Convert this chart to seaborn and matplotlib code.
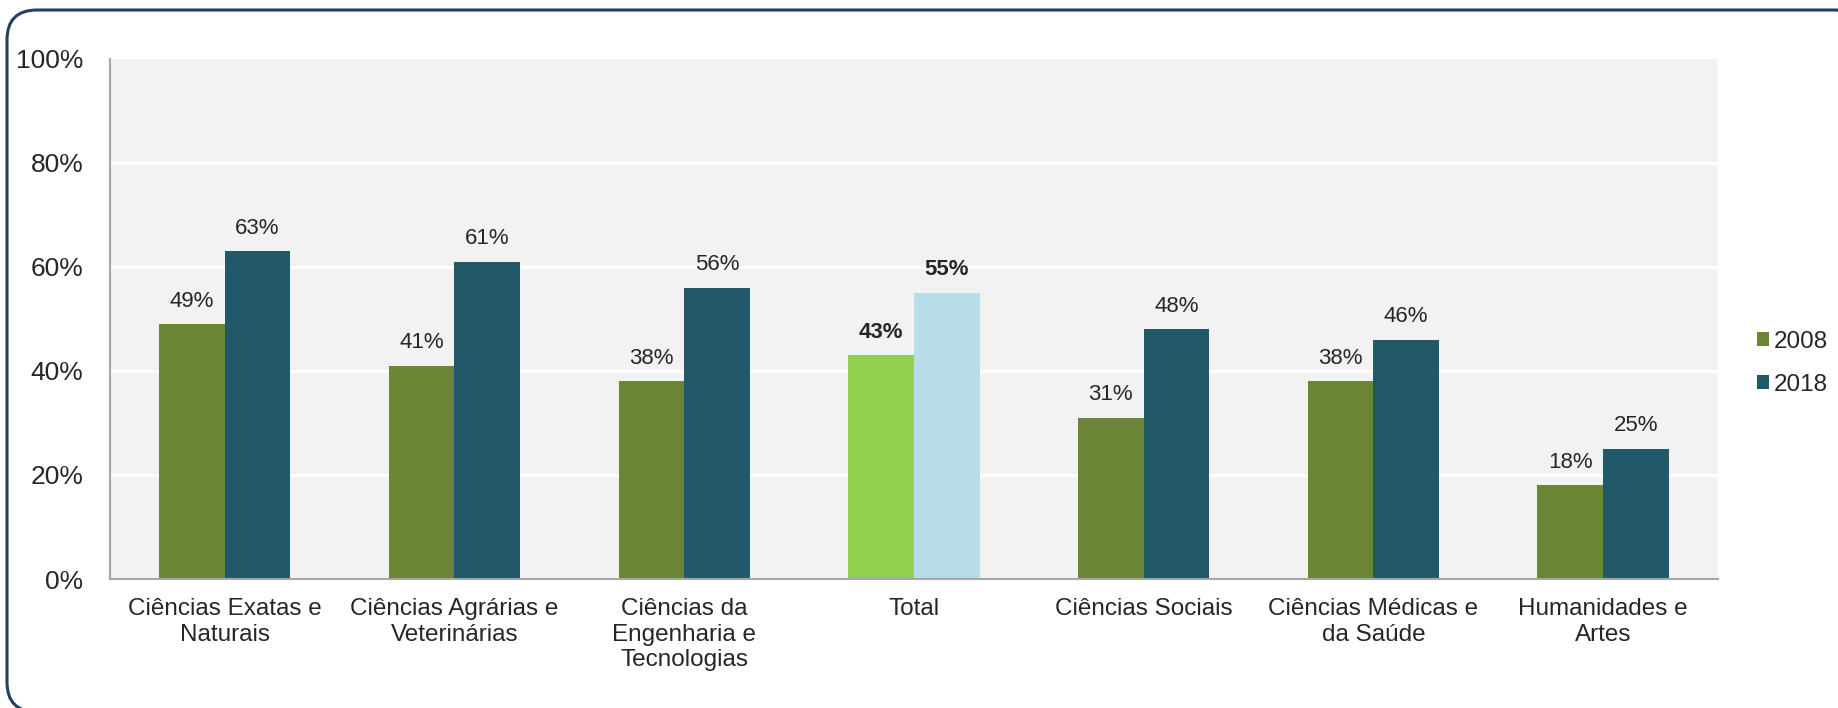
import pandas as pd
import matplotlib.pyplot as plt
import seaborn as sns
from matplotlib.patches import FancyBboxPatch

# Dados
categorias = ['Ciências Exatas e\nNaturais', 'Ciências Agrárias e\nVeterinárias',
              'Ciências da\nEngenharia e\nTecnologias', 'Total', 'Ciências Sociais',
              'Ciências Médicas e\nda Saúde', 'Humanidades e\nArtes']
valores_2008 = [49, 41, 38, 43, 31, 38, 18]
valores_2018 = [63, 61, 56, 55, 48, 46, 25]
anos = ['2008', '2018']
yticks = [0, 20, 40, 60, 80, 100]

cor_2008 = '#6b8536'
cor_2018 = '#215968'
cor_total_2008 = '#92d050'
cor_total_2018 = '#b7dee8'

df = pd.DataFrame({
    'Area': categorias * 2,
    'Ano': [anos[0]] * len(categorias) + [anos[1]] * len(categorias),
    'Valor': valores_2008 + valores_2018,
})

sns.set_style('white')
plt.rcParams['font.family'] = ['Liberation Sans', 'DejaVu Sans']

fig = plt.figure(figsize=(18.38, 7.08), dpi=100)
ax = fig.add_axes([0.0598, 0.1822, 0.8749, 0.7345])

sns.barplot(data=df, x='Area', y='Valor', hue='Ano', order=categorias, hue_order=anos,
            palette=[cor_2008, cor_2018], width=0.572, gap=0, saturation=1,
            edgecolor='none', linewidth=0, ax=ax)

n = len(categorias)
i_total = categorias.index('Total')
ax.patches[i_total].set_facecolor(cor_total_2008)
ax.patches[n + i_total].set_facecolor(cor_total_2018)

ax.set_facecolor('#f2f2f2')
ax.set_xlim(-0.5, n - 0.5)
ax.set_ylim(0, 100)
ax.set_yticks(yticks)
ax.set_yticklabels([f'{v}%' for v in yticks])
ax.set_xlabel('')
ax.set_ylabel('')
ax.tick_params(axis='y', labelsize=19, pad=19, length=0)
ax.tick_params(axis='x', labelsize=17.5, pad=14, length=0)
for v in yticks[1:-1]:
    ax.axhline(v, color='white', lw=2, zorder=0.5)

for s in ['top', 'right']:
    ax.spines[s].set_visible(False)
for s in ['left', 'bottom']:
    ax.spines[s].set_color('#a6a6a6')
    ax.spines[s].set_linewidth(1.5)

for cont, vals in zip(ax.containers, [valores_2008, valores_2018]):
    txts = ax.bar_label(cont, labels=[f'{v}%' for v in vals], padding=9, fontsize=16)
    txts[i_total].set_fontweight('bold')

sns.move_legend(ax, 'center left', bbox_to_anchor=(0.956, 0.487),
                bbox_transform=fig.transFigure, frameon=False, title=None,
                fontsize=17.5, handlelength=0.5, handleheight=0.5,
                handletextpad=0.2, labelspacing=0.85, borderaxespad=0, borderpad=0)

# moldura arredondada (lado direito e base ficam quase fora da imagem)
borda = FancyBboxPatch((0.07, -0.04), 18.6, 7.02,
                       boxstyle='round,pad=0,rounding_size=0.3',
                       transform=fig.dpi_scale_trans, fill=False,
                       edgecolor='#243f60', linewidth=2.2, clip_on=False)
fig.patches.append(borda)

fig.savefig('out.png', dpi=100)
